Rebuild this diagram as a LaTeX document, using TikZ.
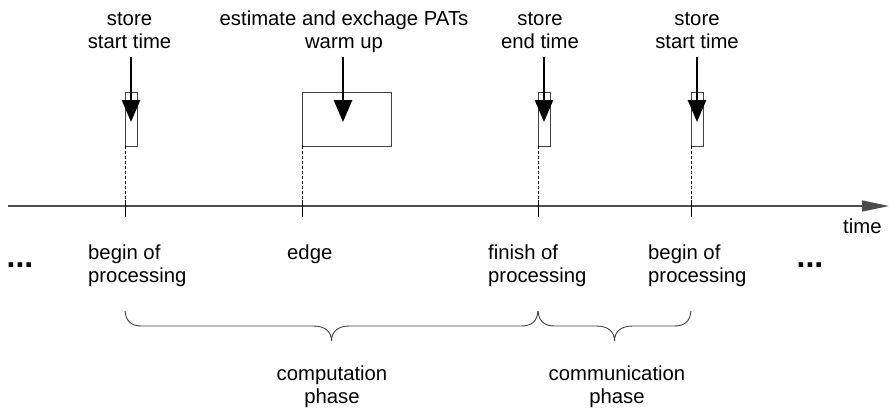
\documentclass[tikz,border=0pt]{standalone}
\usepackage{fontspec}
\setmainfont{Liberation Sans}
\usetikzlibrary{arrows.meta}
\begin{document}
\begin{tikzpicture}[x=1pt,y=-1pt,
  lbl/.style={inner sep=0pt, font=\fontsize{20.3}{23}\selectfont, align=center},
  lbll/.style={inner sep=0pt, font=\fontsize{20.3}{23}\selectfont, align=left},
  dotsl/.style={inner sep=0pt, font=\fontsize{32}{32}\selectfont\bfseries},
  evbox/.style={draw=black!75, line width=0.9pt, inner sep=0pt, anchor=north west},
  bigarrow/.style={line width=2.6pt, -{Triangle[width=18pt,length=22pt]}},
  dashv/.style={dash pattern=on 3pt off 2pt, line width=0.8pt},
  tickmark/.style={line width=0.9pt},
  axis/.style={draw=black!70, line width=1.3pt, -{Triangle[width=11pt,length=27pt]}},
  bracestyle/.style={draw=black!75, line width=0.9pt}]
\useasboundingbox (0,0) rectangle (889,408);

% axis
\coordinate (axS) at (8,206);
\coordinate (axE) at (889,206);
\draw[axis] (axS) -- (axE);
\node[lbll, anchor=base west] (time) at (843,233) {time};

% boxes
\node[evbox, minimum width=12pt, minimum height=54pt] (b1) at (125,92) {};
\node[evbox, minimum width=89pt, minimum height=54pt] (b2) at (302,92) {};
\node[evbox, minimum width=12pt, minimum height=54pt] (b3) at (538,92) {};
\node[evbox, minimum width=12pt, minimum height=54pt] (b4) at (691,92) {};

% top labels (base = last line's baseline)
\node[lbl, anchor=base] (t1) at (129.5,48) {store\\start time};
\node[lbl, anchor=base] (t2) at (344,48) {estimate and exchage PATs\\warm up};
\node[lbl, anchor=base] (t3) at (540,48) {store\\end time};
\node[lbl, anchor=base] (t4) at (697,48) {store\\start time};

% arrows
\foreach \x/\n in {131/1,343/2,544/3,697/4}{
  \coordinate (as\n) at (\x,57);
  \coordinate (ae\n) at (\x,122);
  \draw[bigarrow] (as\n) -- (ae\n);
}

% dashed drops and ticks
\foreach \x/\n in {125/1,302/2,538/3,691/4}{
  \coordinate (ds\n) at (\x,146);
  \coordinate (dt\n) at (\x,200);
  \coordinate (te\n) at (\x,217);
  \draw[dashv] (ds\n) -- (dt\n);
  \draw[tickmark] (dt\n) -- (te\n);
}

% bottom labels
\node[lbll, anchor=base west] (l1) at (88,282) {begin of\\processing};
\node[lbll, anchor=base west] (l2) at (287,259) {edge};
\node[lbll, anchor=base west] (l3) at (488,282) {finish of\\processing};
\node[lbll, anchor=base west] (l4) at (648,282) {begin of\\processing};
\node[dotsl, anchor=base] (d1) at (20,267) {...};
\node[dotsl, anchor=base] (d2) at (810,267) {...};

% braces
\foreach \a/\b in {125/538,538/691}{
  \pgfmathsetmacro{\m}{(\a+\b)/2}
  \draw[bracestyle] (\a,311) .. controls (\a+1,322) and (\a+7,326) .. (\a+17,326)
     -- (\m-18,326) .. controls (\m-6,326) and (\m,332) .. (\m,341)
     .. controls (\m,332) and (\m+6,326) .. (\m+18,326)
     -- (\b-17,326) .. controls (\b-7,326) and (\b-1,322) .. (\b,311);
}
\node[lbl, anchor=base] (p1) at (332,403) {computation\\phase};
\node[lbl, anchor=base] (p2) at (617,403) {communication\\phase};
\end{tikzpicture}
\end{document}
